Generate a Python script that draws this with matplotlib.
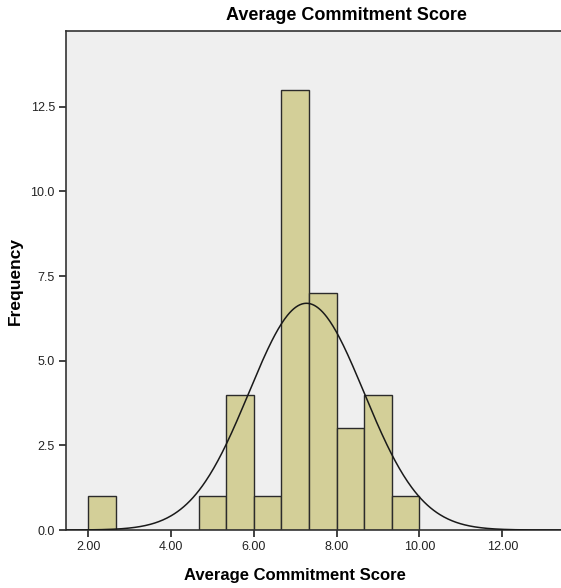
import matplotlib.pyplot as plt
import numpy as np

# histogram bins (width 2/3) and counts
bin_edges = [2.0, 2.6667, 3.3333, 4.0, 4.6667, 5.3333, 6.0, 6.6667,
             7.3333, 8.0, 8.6667, 9.3333, 10.0]
counts = [1, 0, 0, 0, 1, 4, 1, 13, 7, 3, 4, 1]

# fitted normal curve
mean = 7.27
std = 1.39
n_total = sum(counts)

x_ticks = [2, 4, 6, 8, 10, 12]
x_ticklabels = ['2.00', '4.00', '6.00', '8.00', '10.00', '12.00']
y_ticks = [0.0, 2.5, 5.0, 7.5, 10.0, 12.5]

plt.rcParams['font.family'] = ['Liberation Sans', 'DejaVu Sans']

fig = plt.figure(figsize=(5.61, 5.88), dpi=100)
ax = fig.add_axes([0.1176, 0.0986, 1.002, 0.8487])
ax.set_facecolor('#efefef')

edges = np.array(bin_edges)
widths = np.diff(edges)
for left, w, c in zip(edges[:-1], widths, counts):
       if c > 0:
              ax.bar(left, c, width=w, align='edge', color='#d3cf98',
                     edgecolor='#2b2b2b', linewidth=1.0, zorder=2)

bw = widths[0]
xs = np.linspace(1.0, 16.0, 600)
ys = n_total * bw / (std * np.sqrt(2 * np.pi)) * np.exp(-0.5 * ((xs - mean) / std) ** 2)
ax.plot(xs, ys, color='#1a1a1a', linewidth=1.1, zorder=3)

ax.set_xlim(1.46, 15.04)
ax.set_ylim(0, 14.74)
ax.set_xticks(x_ticks)
ax.set_xticklabels(x_ticklabels)
ax.set_yticks(y_ticks)
ax.set_yticklabels(['%.1f' % v for v in y_ticks])
ax.tick_params(axis='both', direction='out', length=5, width=1.2,
               labelsize=9, colors='#222222', pad=3)

for s in ['left', 'bottom', 'top']:
       ax.spines[s].set_color('#333333')
       ax.spines[s].set_linewidth(1.2)
ax.spines['right'].set_visible(False)

ax.set_xlabel('Average Commitment Score', fontsize=12, fontweight='bold')
ax.xaxis.set_label_coords(0.4075, -0.076)
ax.set_ylabel('Frequency', fontsize=12.5, fontweight='bold')
ax.yaxis.set_label_coords(-0.077, 0.5)
fig.text(0.618, 0.973, 'Average Commitment Score', fontsize=13, fontweight='bold',
         ha='center', va='center')

fig.savefig('out.png', dpi=100)
